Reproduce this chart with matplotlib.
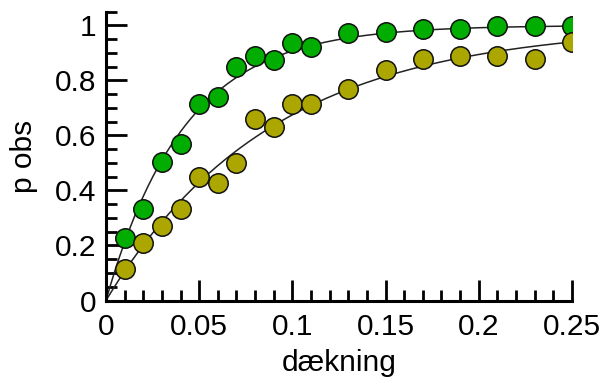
import numpy as np
import matplotlib
matplotlib.use("Agg")
import matplotlib.pyplot as plt
from matplotlib.ticker import MultipleLocator, FixedLocator

plt.rcParams['font.family'] = ['Liberation Sans', 'DejaVu Sans']

x_vals = [0.01, 0.02, 0.03, 0.04, 0.05, 0.06, 0.07, 0.08, 0.09, 0.10,
          0.11, 0.13, 0.15, 0.17, 0.19, 0.21, 0.23, 0.25]
green_vals = [0.226, 0.332, 0.505, 0.568, 0.715, 0.741, 0.847, 0.887, 0.875, 0.935,
              0.923, 0.972, 0.976, 0.987, 0.987, 0.996, 0.996, 0.999]
yellow_vals = [0.113, 0.208, 0.272, 0.332, 0.450, 0.426, 0.499, 0.659, 0.632, 0.713,
               0.713, 0.770, 0.836, 0.877, 0.887, 0.890, 0.877, 0.941]

green_color = '#00ad00'
yellow_color = '#aca600'


def fit_k(x, y):
    x = np.asarray(x)
    y = np.asarray(y)
    ks = np.linspace(1, 60, 5901)
    err = [np.sum((y - (1 - np.exp(-k * x))) ** 2) for k in ks]
    return ks[int(np.argmin(err))]


fig = plt.figure(figsize=(6.02, 3.87), dpi=100)
ax = fig.add_axes([0.176, 0.2235, 0.774, 0.7465])

xs = np.linspace(0, 0.25, 300)
for vals, col in [(green_vals, green_color), (yellow_vals, yellow_color)]:
    k = fit_k(x_vals, vals)
    ax.plot(xs, 1 - np.exp(-k * xs), color='#222222', lw=1.1, zorder=2)
    ax.plot(x_vals, vals, 'o', ms=14, mfc=col, mec='#111111', mew=1.1, zorder=3)

ax.set_xlim(0, 0.25)
ax.set_ylim(0, 1.05)

for s in ['top', 'right']:
    ax.spines[s].set_visible(False)
for s in ['left', 'bottom']:
    ax.spines[s].set_linewidth(2.2)

ax.xaxis.set_major_locator(FixedLocator([0, 0.05, 0.1, 0.15, 0.2, 0.25]))
ax.xaxis.set_minor_locator(MultipleLocator(0.01))
ax.yaxis.set_major_locator(FixedLocator([0, 0.2, 0.4, 0.6, 0.8, 1.0]))
ax.yaxis.set_minor_locator(MultipleLocator(0.05))
ax.set_xticklabels(['0', '0.05', '0.1', '0.15', '0.2', '0.25'])
ax.set_yticklabels(['0', '0.2', '0.4', '0.6', '0.8', '1'])

ax.tick_params(which='major', direction='in', length=15, width=2, labelsize=21.5)
ax.tick_params(axis='x', which='major', pad=9)
ax.tick_params(axis='y', which='major', pad=7)
ax.tick_params(which='minor', direction='in', length=8, width=2)

ax.set_xlabel('dækning', fontsize=21.5, labelpad=6)
ax.set_ylabel('p obs', fontsize=21.5, labelpad=12)

fig.savefig('out.png', dpi=100)
